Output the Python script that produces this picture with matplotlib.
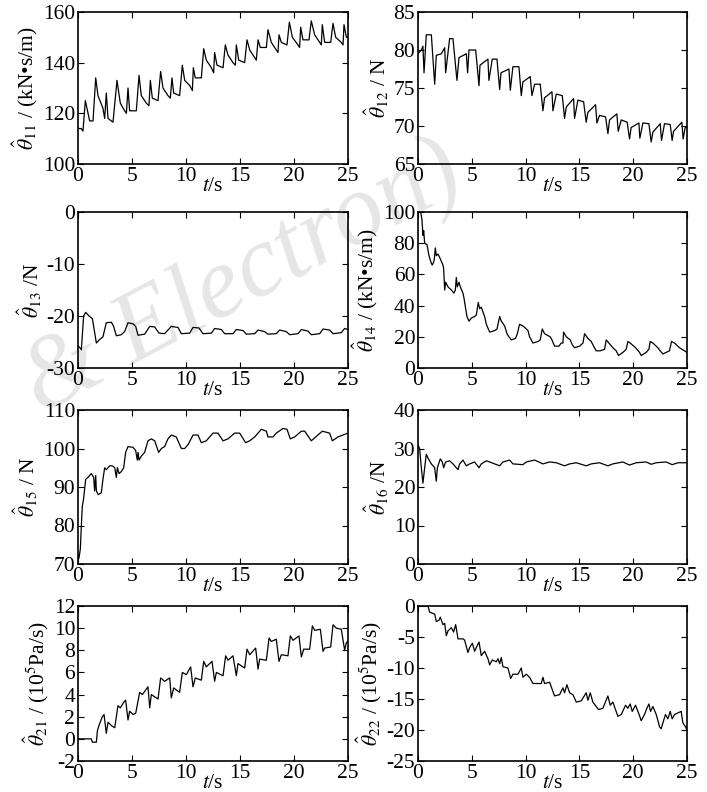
import matplotlib
matplotlib.use("Agg")
from matplotlib import pyplot as plt

plt.rcParams["font.family"] = ["Liberation Serif", "DejaVu Serif"]
plt.rcParams["mathtext.fontset"] = "stix"
plt.rcParams["axes.unicode_minus"] = False

# (t, value) readings per panel
theta11 = [(0, 114), (0.3, 114), (0.46, 113), (0.68, 125), (0.93, 120), (1.08, 117), (1.39, 117), (1.64, 134),
           (1.85, 127), (2.31, 122), (2.47, 118), (2.62, 128), (2.78, 118), (3.09, 117), (3.24, 116.5), (3.61, 133),
           (3.92, 124), (4.32, 121), (4.48, 120), (4.63, 130), (4.78, 121), (5.40, 121), (5.65, 135), (5.86, 127),
           (6.33, 124), (6.57, 123), (6.70, 133), (6.88, 126), (7.41, 125), (7.65, 136.5), (7.87, 130), (8.33, 127),
           (8.55, 126), (8.70, 134), (8.86, 128), (9.41, 127), (9.66, 139), (9.88, 133), (10.34, 131), (10.59, 129),
           (10.68, 138), (10.86, 134), (11.42, 134), (11.64, 145.5), (11.88, 141), (12.35, 138), (12.56, 136),
           (12.65, 144), (12.87, 139), (13.43, 138), (13.64, 147), (13.89, 143), (14.35, 140), (14.57, 139),
           (14.66, 147), (14.88, 141), (15.43, 140), (15.65, 149), (15.90, 145), (16.36, 142), (16.51, 141),
           (16.67, 149), (16.88, 146), (17.44, 146), (17.59, 153), (17.90, 148), (18.36, 145), (18.52, 144),
           (18.61, 151), (18.83, 148), (19.35, 147), (19.57, 156), (19.85, 150), (20.37, 147), (20.52, 146),
           (20.62, 154), (20.83, 149), (21.39, 149), (21.60, 156.5), (21.91, 151), (22.38, 148), (22.53, 147),
           (22.62, 155), (22.84, 148), (23.40, 148), (23.61, 155.5), (23.86, 150), (24.38, 148), (24.54, 147),
           (24.63, 155), (24.85, 150), (25, 150)]

theta12 = [(0, 79.5), (0.31, 80), (0.46, 80.5), (0.56, 77), (0.77, 82), (1.24, 82), (1.55, 75.5), (1.70, 79.3),
           (2.17, 79.5), (2.48, 80.3), (2.57, 77), (2.94, 81.5), (3.25, 81.5), (3.62, 76), (3.81, 79), (4.49, 79.5),
           (4.61, 77), (4.74, 80), (5.36, 80), (5.67, 75.3), (5.76, 78), (6.50, 78.8), (6.59, 76), (6.90, 78.8),
           (7.34, 78.8), (7.59, 74.8), (7.71, 77), (8.45, 77.5), (8.58, 74.7), (8.82, 77.8), (9.38, 77.8),
           (9.60, 74), (9.75, 75.8), (10.43, 76.5), (10.59, 74), (10.84, 75.5), (11.36, 75.5), (11.61, 72),
           (11.76, 73.7), (12.45, 74.5), (12.54, 72), (12.85, 74.2), (13.41, 74), (13.62, 71), (13.78, 72.5),
           (14.46, 73.6), (14.55, 71), (14.86, 73.4), (15.39, 73.2), (15.63, 70.5), (15.79, 71.8), (16.50, 72.8),
           (16.63, 70.4), (16.87, 71.4), (17.43, 71.2), (17.65, 69), (17.80, 70.8), (18.48, 71.6), (18.61, 69.3),
           (18.89, 70.8), (19.44, 70.5), (19.66, 68.3), (19.81, 69.8), (20.53, 70.4), (20.62, 68.4), (20.90, 70.4),
           (21.46, 70.3), (21.67, 67.9), (21.83, 69.2), (22.51, 70.3), (22.63, 68.1), (22.91, 70.3), (23.44, 70.2),
           (23.62, 68.1), (23.75, 69.3), (24.52, 70.5), (24.64, 68.3), (24.83, 69.8), (25, 69.8)]

theta13 = [(0, -25.8), (0.15, -26), (0.31, -26.5), (0.52, -20), (0.71, -19.3), (1.02, -20), (1.33, -20.5),
           (1.45, -22), (1.70, -25.2), (2.01, -24.5), (2.31, -24), (2.62, -21.3), (3.09, -21.2), (3.30, -22),
           (3.55, -23.8), (4.01, -23.6), (4.32, -23), (4.63, -21.3), (5.09, -21.5), (5.34, -22), (5.56, -23.7),
           (6.17, -23.5), (6.64, -22), (7.10, -22.1), (7.50, -23.3), (8.02, -23.4), (8.64, -22), (9.26, -22.2),
           (9.57, -23.4), (10.34, -23.3), (10.65, -22.2), (11.20, -22.3), (11.57, -23.4), (12.35, -23.3),
           (12.65, -22.4), (13.27, -22.6), (13.58, -23.4), (14.35, -23.4), (14.66, -22.6), (15.28, -22.8),
           (15.59, -23.5), (16.36, -23.4), (16.67, -22.7), (17.28, -23), (17.59, -23.5), (18.36, -23.4),
           (18.67, -22.7), (19.29, -23), (19.60, -23.6), (20.37, -23.4), (20.68, -22.6), (21.30, -22.9),
           (21.60, -23.6), (22.38, -23.4), (22.69, -22.5), (23.30, -22.7), (23.61, -23.4), (24.38, -23.2),
           (24.69, -22.4), (25, -22.6)]

theta14 = [(0, 100), (0.25, 100), (0.37, 95), (0.46, 85), (0.53, 88), (0.62, 80), (0.84, 79), (1.02, 72),
           (1.24, 67), (1.33, 66), (1.46, 68), (1.52, 70), (1.61, 77), (1.70, 72), (1.86, 73), (2.07, 70),
           (2.32, 66), (2.38, 64), (2.48, 50), (2.57, 55), (2.79, 52), (3.10, 50), (3.34, 48), (3.47, 50),
           (3.56, 58), (3.65, 52), (3.81, 55), (3.93, 52), (4.18, 48), (4.27, 45), (4.43, 38), (4.55, 33),
           (4.74, 30), (4.95, 32), (5.26, 33), (5.42, 34), (5.60, 42), (5.73, 38), (5.88, 39), (6.19, 33),
           (6.35, 28), (6.66, 23), (7.12, 24), (7.34, 25), (7.59, 33), (7.74, 30), (8.05, 27), (8.27, 22),
           (8.45, 20), (8.67, 18), (9.07, 19), (9.23, 22), (9.44, 28), (9.75, 27), (10.22, 24), (10.37, 20),
           (10.68, 16), (11.15, 17), (11.36, 18), (11.55, 25), (11.76, 22), (12.29, 20), (12.45, 18),
           (12.69, 14), (13.10, 14), (13.31, 16), (13.47, 16), (13.53, 23), (13.78, 20), (14.15, 18),
           (14.33, 15), (14.55, 13), (15.02, 14), (15.33, 16), (15.48, 22), (15.79, 19), (16.10, 17),
           (16.32, 14), (16.56, 11), (16.93, 11), (17.34, 12), (17.49, 18), (17.74, 16), (18.11, 13),
           (18.42, 11), (18.64, 8), (19.04, 10), (19.35, 12), (19.50, 17), (19.72, 16), (20.22, 13),
           (20.59, 10), (20.74, 8), (21.21, 10), (21.46, 12), (21.58, 17), (21.83, 16), (22.29, 13),
           (22.51, 11), (22.76, 9), (23.07, 10), (23.37, 11), (23.56, 17), (23.84, 16), (24.30, 13), (25, 10)]

theta15 = [(0, 72), (0.09, 71.5), (0.22, 74), (0.31, 80), (0.40, 85), (0.46, 86), (0.52, 87), (0.71, 92),
           (0.93, 92.5), (1.23, 93.5), (1.45, 92.5), (1.54, 89), (1.64, 93), (1.70, 89), (1.88, 88), (2.16, 88.5),
           (2.31, 92), (2.47, 95), (2.62, 94.5), (2.93, 95.5), (3.18, 95.5), (3.40, 95), (3.55, 92.5), (3.64, 95),
           (3.80, 93.5), (4.01, 94), (4.23, 95), (4.41, 99), (4.63, 100.5), (5.09, 100.3), (5.34, 99.5),
           (5.49, 97), (5.56, 99), (5.65, 97), (5.86, 98), (6.17, 99), (6.48, 102), (6.79, 102.5), (7.10, 102),
           (7.47, 99), (7.72, 100), (8.02, 100.5), (8.33, 102.5), (8.64, 103.5), (9.10, 103), (9.57, 100),
           (9.88, 100), (10.19, 101), (10.65, 103.5), (11.11, 103.5), (11.42, 101.5), (11.88, 102), (12.50, 104),
           (12.96, 104), (13.43, 102), (13.89, 102.5), (14.51, 104), (14.97, 104), (15.52, 101.5), (15.90, 102),
           (16.36, 103), (16.98, 105), (17.44, 104.5), (17.59, 103), (18.06, 103), (18.36, 104), (18.98, 105.2),
           (19.35, 105), (19.66, 102.5), (20.06, 103), (20.68, 104.5), (20.99, 104.5), (21.60, 102), (22.01, 103),
           (22.62, 104.5), (23.30, 104), (23.55, 102), (24.07, 103), (25, 104)]

theta16 = [(0, 31), (0.15, 30), (0.31, 25), (0.46, 21), (0.62, 25), (0.77, 28.5), (0.93, 27.5), (1.24, 26),
           (1.55, 25), (1.70, 21.5), (1.80, 25), (2.07, 27.3), (2.26, 26.5), (2.38, 25), (2.57, 26.5),
           (2.94, 26.8), (3.25, 26), (3.72, 24.5), (3.87, 26), (4.18, 27), (4.49, 25.5), (4.80, 26), (5.26, 26.5),
           (5.67, 25), (5.88, 26), (6.35, 26.8), (6.66, 26.5), (7.59, 25.5), (7.89, 26.5), (8.51, 27), (8.82, 26),
           (9.75, 25.8), (10.06, 26.5), (10.84, 27), (11.61, 26), (12.23, 26.5), (12.85, 26.3), (13.62, 25.5),
           (14.09, 26), (14.71, 26.3), (15.63, 25.5), (16.10, 26), (16.87, 26.3), (17.65, 25.5), (18.11, 26),
           (19.04, 26.5), (19.66, 25.7), (20.28, 26.3), (21.21, 26.5), (21.67, 25.9), (22.14, 26.3),
           (23.07, 26.5), (23.62, 25.8), (24.15, 26.3), (25, 26.3)]

theta21 = [(0, 0), (1.23, 0), (1.33, -0.3), (1.70, -0.3), (1.79, 0.7), (1.94, 1.2), (2.25, 2), (2.41, 2.2),
           (2.62, 0.5), (2.78, 1.5), (3.09, 1.2), (3.40, 1), (3.70, 3), (3.92, 2.8), (4.23, 3.3), (4.41, 3.5),
           (4.63, 1.7), (4.78, 2.5), (5.09, 2.2), (5.34, 2.3), (5.71, 4.2), (5.96, 4), (6.33, 4.5), (6.48, 4.7),
           (6.64, 2.8), (6.79, 4), (7.25, 3.7), (7.41, 3.6), (7.65, 5.5), (8.02, 5.2), (8.49, 5.5), (8.64, 3.7),
           (8.86, 4.6), (9.41, 4.2), (9.66, 6), (10.03, 5.8), (10.43, 6.5), (10.65, 4.7), (10.86, 5.5),
           (11.42, 5.3), (11.64, 7), (11.88, 6.5), (12.41, 7), (12.65, 5.2), (12.81, 6), (13.43, 5.7),
           (13.67, 7.5), (13.89, 7.1), (14.35, 7.5), (14.66, 5.7), (14.81, 6.8), (15.43, 6.4), (15.65, 8.1),
           (15.90, 7.6), (16.45, 8.2), (16.67, 6.3), (16.82, 7.2), (17.44, 7.1), (17.69, 9.1), (17.90, 8.8),
           (18.36, 9), (18.61, 7), (18.83, 7.6), (19.44, 7.5), (19.66, 9.3), (19.91, 8.9), (20.46, 9.3),
           (20.68, 7.4), (20.90, 8.1), (21.45, 8.1), (21.70, 10.2), (21.91, 9.8), (22.44, 9.9), (22.69, 7.9),
           (22.84, 8.2), (23.40, 8.3), (23.61, 10.3), (23.92, 10), (24.38, 9.9), (24.69, 8), (24.85, 8.7),
           (25, 8.8)]

theta22 = [(0, 0), (0.93, 0), (1.08, -1), (1.55, -1.3), (1.70, -2.5), (1.95, -2.3), (2.07, -1.8), (2.32, -3),
           (2.48, -2.8), (2.63, -4.8), (2.79, -4), (3.10, -3.5), (3.31, -4.2), (3.50, -3), (3.72, -5.3),
           (4.18, -5.3), (4.33, -5.5), (4.64, -7.5), (4.80, -6.7), (5.05, -6), (5.26, -7.3), (5.67, -5.8),
           (5.88, -8), (6.19, -7.3), (6.50, -8.5), (6.66, -9.5), (6.90, -8.7), (7.28, -9), (7.43, -8.5),
           (7.59, -9.3), (7.74, -8.3), (7.89, -9.8), (8.36, -10), (8.61, -11.7), (8.82, -11), (9.29, -11),
           (9.60, -10), (9.75, -11.5), (10.06, -11), (10.37, -11.5), (10.68, -12.5), (11.46, -12.5),
           (11.61, -11.5), (11.76, -12.5), (12.23, -12.3), (12.69, -14.5), (13.16, -14.3), (13.47, -13.2),
           (13.62, -14), (13.84, -12.7), (14.09, -14), (14.40, -14.3), (14.71, -15.5), (15.17, -15.3),
           (15.63, -14), (15.79, -15.2), (16.01, -14), (16.25, -15.5), (16.78, -16.7), (17.18, -16.5),
           (17.65, -14.5), (17.86, -16), (18.11, -15.5), (18.58, -17.8), (18.89, -17.5), (19.29, -16),
           (19.50, -16.5), (19.72, -15.8), (19.91, -17), (20.22, -16), (20.59, -17.7), (20.74, -18.5),
           (21.05, -17.5), (21.27, -16.5), (21.46, -15.8), (21.61, -17), (21.83, -16.2), (22.14, -17.5),
           (22.45, -19.5), (22.60, -19.8), (22.91, -18), (23.00, -17.5), (23.22, -18.2), (23.44, -17),
           (23.62, -18.2), (23.84, -17.5), (24.46, -17), (24.61, -18.8), (24.86, -19.5), (25, -20)]

x_ticks = [0, 5, 10, 15, 20, 25]

panels = [
    (theta11, [100, 120, 140, 160], r"$\hat{\theta}_{11}$ / (kN•s/m)"),
    (theta12, [65, 70, 75, 80, 85], r"$\hat{\theta}_{12}$ / N"),
    (theta13, [-30, -20, -10, 0], r"$\hat{\theta}_{13}$ /N"),
    (theta14, [0, 20, 40, 60, 80, 100], r"$\hat{\theta}_{14}$ / (kN•s/m)"),
    (theta15, [70, 80, 90, 100, 110], r"$\hat{\theta}_{15}$ / N"),
    (theta16, [0, 10, 20, 30, 40], r"$\hat{\theta}_{16}$ /N"),
    (theta21, [-2, 0, 2, 4, 6, 8, 10, 12], r"$\hat{\theta}_{21}$ / (10$^5$Pa/s)"),
    (theta22, [-25, -20, -15, -10, -5, 0], r"$\hat{\theta}_{22}$ / (10$^5$Pa/s)"),
]

W, H = 707, 792
col_x = [(78, 348), (418, 687)]
row_y = [(12, 164), (212, 368), (410, 564), (606, 761)]
fs = 15.5

fig = plt.figure(figsize=(W / 100, H / 100), dpi=100)
fig.patch.set_facecolor("white")

# faint watermark behind the panels
fig.text(243 / W, 1 - 280 / H, "& Electron)", fontsize=73, style="italic", color="#e6e6e6",
         rotation=28, rotation_mode="anchor", ha="center", va="center", zorder=-1)

for i, (pts, yticks, ylabel) in enumerate(panels):
    (x0, x1), (y0, y1) = col_x[i % 2], row_y[i // 2]
    ax = fig.add_axes([x0 / W, 1 - y1 / H, (x1 - x0) / W, (y1 - y0) / H])
    ax.patch.set_alpha(0)
    t = [p[0] for p in pts]
    v = [p[1] for p in pts]
    ax.plot(t, v, color="black", linewidth=0.9)
    ax.set_xlim(0, 25)
    ax.set_ylim(yticks[0], yticks[-1])
    ax.set_xticks(x_ticks)
    ax.set_yticks(yticks)
    ax.tick_params(direction="in", top=True, right=True, length=4, width=0.8, labelsize=fs, pad=2)
    for s in ax.spines.values():
        s.set_linewidth(1.2)
    ax.set_xlabel("$t$/s", fontsize=fs, labelpad=-6)
    ax.set_ylabel(ylabel, fontsize=fs, labelpad=2)

plt.savefig("out.png", dpi=100)
